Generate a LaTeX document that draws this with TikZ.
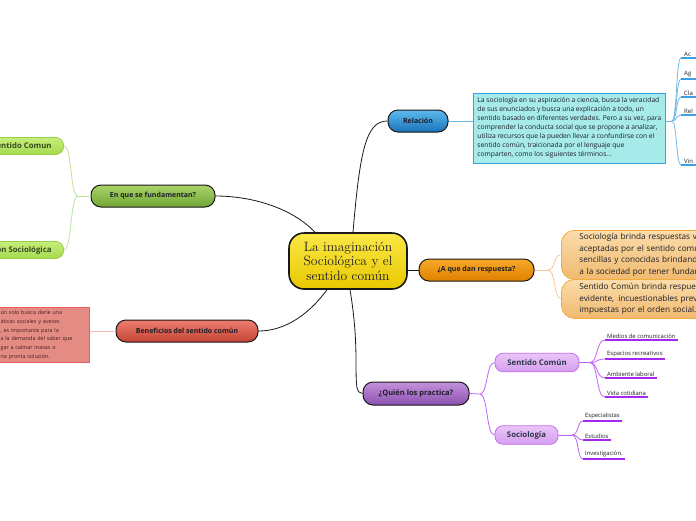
\documentclass[tikz,border=0pt]{standalone}
\usepackage{fontspec}
\newfontfamily\mmsans{Open Sans}
\usepackage{tikz}
\usetikzlibrary{positioning,calc}
\definecolor{mmedge}{RGB}{25,25,25}
\definecolor{mmtext}{RGB}{30,30,40}
\definecolor{mmyelA}{RGB}{250,232,70}
\definecolor{mmyelB}{RGB}{232,200,0}
\definecolor{mmbluA}{RGB}{95,185,238}
\definecolor{mmbluB}{RGB}{25,115,185}
\definecolor{mmblue}{RGB}{60,160,228}
\definecolor{mmbline}{RGB}{110,185,235}
\definecolor{mmcyan}{RGB}{166,234,234}
\definecolor{mmgrnA}{RGB}{170,212,105}
\definecolor{mmgrnB}{RGB}{112,165,52}
\definecolor{mmgrnC}{RGB}{198,238,122}
\definecolor{mmgrnD}{RGB}{166,218,78}
\definecolor{mmgrnE}{RGB}{150,208,70}
\definecolor{mmgline}{RGB}{190,228,150}
\definecolor{mmredA}{RGB}{238,125,110}
\definecolor{mmredB}{RGB}{196,68,52}
\definecolor{mmrbox}{RGB}{228,140,132}
\definecolor{mmredE}{RGB}{232,92,92}
\definecolor{mmrline}{RGB}{246,190,186}
\definecolor{mmorgA}{RGB}{248,168,40}
\definecolor{mmorgB}{RGB}{222,128,0}
\definecolor{mmorgC}{RGB}{251,220,170}
\definecolor{mmorgD}{RGB}{240,186,112}
\definecolor{mmorgE}{RGB}{245,170,60}
\definecolor{mmoline}{RGB}{246,200,140}
\definecolor{mmpurA}{RGB}{196,146,220}
\definecolor{mmpurB}{RGB}{140,80,176}
\definecolor{mmpurC}{RGB}{234,196,248}
\definecolor{mmpurD}{RGB}{212,160,238}
\definecolor{mmpurE}{RGB}{196,110,240}
\definecolor{mmpline}{RGB}{190,100,250}
\definecolor{mmpund}{RGB}{165,40,240}
\tikzset{
  core/.style={
    draw=mmedge, line width=1.6pt, rounded corners=15pt,
    top color=mmyelA, bottom color=mmyelB, text=mmtext,
    minimum width=118pt, minimum height=56pt, inner sep=0pt,
    align=center, font=\fontsize{13.5}{14.5}\selectfont
  },
  topic/.style={
    draw=mmedge, line width=1pt, rounded corners=10pt,
    minimum height=22pt, inner sep=0pt, text=mmtext,
    font=\mmsans\bfseries\fontsize{7}{8}\selectfont
  },
  subtopic/.style={
    line width=0.8pt, rounded corners=8pt, minimum height=17pt,
    inner xsep=12pt, inner ysep=0pt,
    font=\mmsans\bfseries\fontsize{7.8}{8.8}\selectfont
  },
  gsub/.style={subtopic, draw=mmgrnE, top color=mmgrnC, bottom color=mmgrnD, text={rgb,255:red,55;green,75;blue,35}},
  psub/.style={subtopic, draw=mmpurE, top color=mmpurC, bottom color=mmpurD, text={rgb,255:red,45;green,55;blue,75}, minimum height=18.5pt},
  note/.style={
    draw=mmblue, line width=0.9pt, fill=mmcyan, text=mmtext,
    minimum width=186pt, inner xsep=4pt, inner ysep=4pt, align=left,
    minimum height=70pt, font=\mmsans\fontsize{6.7}{9}\selectfont
  },
  rednote/.style={
    draw=mmredE, line width=0.9pt, fill=mmrbox,
    text={rgb,255:red,70;green,30;blue,30},
    text width=85pt, inner xsep=4pt, inner ysep=3pt, align=left,
    font=\mmsans\fontsize{5.4}{8.8}\selectfont
  },
  obox/.style={
    draw=mmorgE, line width=0.8pt, rounded corners=13pt,
    top color=mmorgC, bottom color=mmorgD, text=mmtext,
    text width=200pt, align=left, inner xsep=18pt, inner ysep=3pt,
    font=\mmsans\fontsize{8.2}{11.6}\selectfont
  },
  bleaf/.style={
    anchor=south west, inner xsep=3pt, inner ysep=1.5pt, text width=14pt,
    align=left, text=mmtext, font=\mmsans\fontsize{6}{7}\selectfont
  },
  pleaf/.style={
    anchor=south west, inner xsep=2pt, inner ysep=1.5pt,
    text=mmtext, font=\mmsans\fontsize{5.9}{6.9}\selectfont
  },
  link/.style={draw=mmedge, line width=0.8pt},
  blink/.style={draw=mmbline, line width=0.8pt},
  glink/.style={draw=mmgline, line width=0.8pt},
  rlink/.style={draw=mmrline, line width=1pt},
  olink/.style={draw=mmoline, line width=0.8pt},
  plink/.style={draw=mmpline, line width=0.8pt},
  bund/.style={draw=mmblue, line width=1.3pt},
  pund/.style={draw=mmpund, line width=1.2pt}
}
\begin{document}
\begin{tikzpicture}[x=1pt, y=-1pt]
  \path[use as bounding box, fill=white] (0,0) rectangle (696,520);
  \clip (0,0) rectangle (696,520);

  % centre and first level
  \node[core] (core) at (348,261) {La imaginación\\Sociológica y el\\sentido común};
  \node[topic, top color=mmbluA, bottom color=mmbluB, minimum width=60pt] (rel) at (418,121) {Relación};
  \node[topic, top color=mmgrnA, bottom color=mmgrnB, minimum width=124pt] (base) at (153,196) {En que se fundamentan?};
  \node[topic, top color=mmredA, bottom color=mmredB, minimum width=142pt] (gain) at (187,331) {Beneficios del sentido común};
  \node[topic, top color=mmorgA, bottom color=mmorgB, minimum width=115pt] (ans) at (476.5,270) {¿A que dan respuesta?};
  \node[topic, top color=mmpurA, bottom color=mmpurB, minimum width=106pt, minimum height=23pt,
        font=\mmsans\bfseries\fontsize{7.5}{8.5}\selectfont] (who) at (416,393.5) {¿Quién los practica?};

  \draw[link] ($(core.north)+(5,0)$) .. controls (360,150) and (366,121) .. (rel.west);
  \draw[link] ($(core.north)+(-33,0)$) .. controls (292,208) and (252,196) .. (base.east);
  \draw[link] ($(core.south)+(-21,0)$) .. controls (306,318) and (282,331) .. (gain.east);
  \draw[link] ($(core.south)+(2,0)$) .. controls (362,360) and (350,393.5) .. (who.west);
  \draw[link] (core.east |- ans) -- (ans.west);

  % Relacion
  \node[note, anchor=west] (relnote) at (473,128)
    {La sociología en su aspiración a ciencia, busca la veracidad\\
     de sus enunciados y busca una explicación a todo, un\\
     sentido basado en diferentes verdades. Pero a su vez, para\\
     comprender la conducta social que se propone a analizar,\\
     utiliza recursos que la pueden llevar a confundirse con el\\
     sentido común, traicionada por el lenguaje que\\
     comparten, como los siguientes términos...};
  \draw[blink] (rel.east) -- (rel.east -| relnote.west);
  \coordinate (relhub) at (672,121);
  \draw[blink] (relnote.east |- relhub) -- (relhub);
  \foreach \n/\t/\y in {ra/Ac/58, rb/Ag/79, rc/Cla/97, rd/Rel/115, re/Vin/165} {
    \node[bleaf] (\n) at (681,\y) {\t};
    \draw[bund] (\n.south west) -- (\n.south east);
    \draw[blink] (relhub) .. controls (677,121) and (676,\y) .. (\n.south west);
  }

  % En que se fundamentan
  \node[gsub, anchor=east] (basesc) at (64,146) {Sentido Comun};
  \node[gsub, anchor=east] (baseis) at (64,250) {Imaginación Sociológica};
  \coordinate (basehub) at (78,196);
  \draw[glink] (base.west) -- (basehub);
  \draw[glink] (basehub) .. controls (70,196) and (72,146) .. (basesc.east);
  \draw[glink] (basehub) .. controls (70,196) and (72,250) .. (baseis.east);

  % Beneficios
  \node[rednote, anchor=north east] (gainnote) at (90,307)
    {ún solo busca darle una\\áticas sociales y aveces\\, es importante para la\\
     a la demanda del saber que\\gar a calmar masas o\\na pronta solución.};
  \draw[rlink] (gainnote.east |- gain) -- (gain.west);

  % A que dan respuesta
  \node[obox, anchor=north west, minimum height=49pt] (ansa) at (561,230)
    {Sociología brinda respuestas vi\\aceptadas por el sentido común\\
     sencillas y conocidas brindando\\a la sociedad por tener fundam};
  \node[obox, anchor=north west, minimum height=39pt] (ansb) at (561,279)
    {Sentido Común brinda respuestas\\evidente,\, incuestionables prev\\impuestas por el orden social.};
  \coordinate (anshub) at (548,270);
  \draw[olink] (ans.east) -- (anshub);
  \draw[olink] (anshub) .. controls (556,270) and (553,254) .. (ansa.west);
  \draw[olink] (anshub) .. controls (556,270) and (553,298) .. (ansb.west);

  % Quien los practica
  \node[psub, minimum width=84pt] (whosc) at (537,362.5) {Sentido Común};
  \node[psub, minimum width=63pt] (whoso) at (526.5,435) {Sociología};
  \coordinate (whohub) at (480,394);
  \draw[plink] (who.east) -- (whohub);
  \draw[plink] (whohub) .. controls (488,394) and (486,362.5) .. (whosc.west);
  \draw[plink] (whohub) .. controls (488,394) and (486,435) .. (whoso.west);

  \coordinate (schub) at (590,362.5);
  \draw[plink] (whosc.east) -- (schub);
  \foreach \n/\t/\y in {sa/Medios de comunicación/340, sb/Espacios recreativos/359,
                        sc/Ambiente laboral/378, sd/Vida cotidiana/397} {
    \node[pleaf] (\n) at (605,\y) {\t};
    \draw[pund] (\n.south west) -- (\n.south east);
    \draw[plink] (schub) .. controls (598,362.5) and (596,\y) .. (\n.south west);
  }
  \coordinate (sohub) at (572,435);
  \draw[plink] (whoso.east) -- (sohub);
  \foreach \n/\t/\y in {ta/Especialistas/421, tb/Estudios/440, tc/Investigación./459} {
    \node[pleaf] (\n) at (583,\y) {\t};
    \draw[pund] (\n.south west) -- (\n.south east);
    \draw[plink] (sohub) .. controls (579,435) and (577,\y) .. (\n.south west);
  }
\end{tikzpicture}
\end{document}
